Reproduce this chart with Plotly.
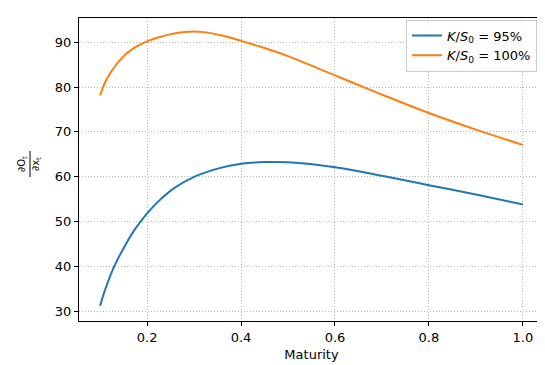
import plotly.graph_objects as go

maturity_95 = [0.1, 0.11, 0.13, 0.155, 0.175, 0.2, 0.225, 0.26, 0.3, 0.35, 0.4, 0.45, 0.5, 0.6, 0.7, 0.8, 0.9, 1.0]
sens_95 = [31.2, 34.6, 40.0, 45.0, 48.4, 51.8, 54.6, 57.6, 59.95, 61.8, 62.9, 63.25, 63.2, 62.1, 60.2, 58.1, 56.0, 53.8]
maturity_100 = [0.1, 0.11, 0.125, 0.15, 0.175, 0.2, 0.225, 0.26, 0.29, 0.32, 0.36, 0.4, 0.45, 0.5, 0.6, 0.7, 0.8, 0.9, 1.0]
sens_100 = [78.1, 80.9, 83.7, 86.9, 88.9, 90.2, 91.1, 92.0, 92.35, 92.25, 91.5, 90.3, 88.7, 86.9, 82.6, 78.3, 74.2, 70.5, 67.1]
names = ["<i>K</i>/<i>S</i><sub>0</sub> = 95%", "<i>K</i>/<i>S</i><sub>0</sub> = 100%"]
colors = ["#1f77b4", "#ff7f0e"]

W, H = 545, 365
L, R, T, B = 71, 9, 10, 52
pw, ph = W - L - R, H - T - B

fig = go.Figure()
for x, y, n, c in zip([maturity_95, maturity_100], [sens_95, sens_100], names, colors):
    fig.add_trace(go.Scatter(x=x, y=y, name=n, mode="lines",
                             line=dict(color=c, width=2, shape="spline", smoothing=1.0)))

font = dict(family="DejaVu Sans", size=13, color="black")
axis_common = dict(showline=True, linecolor="black", linewidth=1, mirror=True,
                   ticks="outside", ticklen=4, tickcolor="black", showgrid=True,
                   gridcolor="#b8b8b8", griddash="1px,2px", gridwidth=1, zeroline=False,
                   tickfont=font)
fig.update_xaxes(range=[0.055, 1.045], tickvals=[0.2, 0.4, 0.6, 0.8, 1.0],
                 ticktext=["0.2", "0.4", "0.6", "0.8", "1.0"],
                 title=dict(text="Maturity", font=font, standoff=6), **axis_common)
fig.update_yaxes(range=[27.8, 95.4], tickvals=[30, 40, 50, 60, 70, 80, 90], **axis_common)

def px_x(p):
    return (p - L) / pw

def px_y(p):
    return (H - B - p) / ph

small = dict(family="DejaVu Sans", size=10, color="black")
fig.add_annotation(text="∂O<sub>t</sub>", x=px_x(15), y=px_y(156), xref="paper", yref="paper",
                   xanchor="center", yanchor="middle", textangle=-90, showarrow=False, font=small)
fig.add_annotation(text="∂x<sub>t</sub>", x=px_x(29), y=px_y(156), xref="paper", yref="paper",
                   xanchor="center", yanchor="middle", textangle=-90, showarrow=False, font=small)
fig.add_shape(type="line", xref="paper", yref="paper", x0=px_x(22), x1=px_x(22),
              y0=px_y(143), y1=px_y(169), line=dict(color="black", width=1))

fig.update_layout(width=W, height=H, margin=dict(l=L, r=R, t=T, b=B),
                  plot_bgcolor="white", paper_bgcolor="white", font=font,
                  showlegend=True,
                  legend=dict(x=0.985, y=0.995, xanchor="right", yanchor="top",
                              bgcolor="rgba(255,255,255,0.8)", bordercolor="#cccccc",
                              borderwidth=1, font=dict(family="DejaVu Sans", size=13)))

fig.write_html("out.html")
